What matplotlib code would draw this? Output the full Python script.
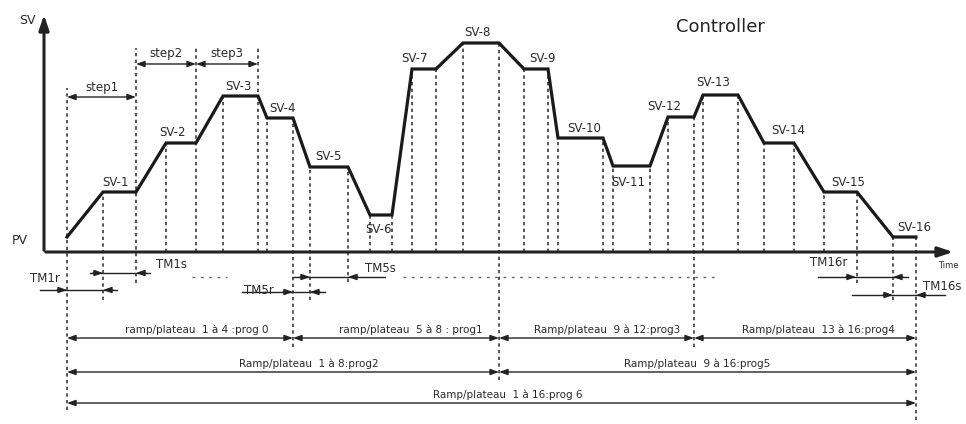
import matplotlib
matplotlib.use("Agg")
import matplotlib.pyplot as plt

# profil SV (temps, valeur) - paliers debut/fin
pv_start = (23, 15)
sv_labels = ["SV-1", "SV-2", "SV-3", "SV-4", "SV-5", "SV-6", "SV-7", "SV-8",
             "SV-9", "SV-10", "SV-11", "SV-12", "SV-13", "SV-14", "SV-15", "SV-16"]
sv_values = [60, 109, 156, 134, 85, 37, 183, 209, 183, 114, 86, 135, 157, 109, 60, 15]
plat_start = [59, 122, 179, 223, 266, 326, 368, 419, 480, 514, 569, 624, 659, 720, 780, 849]
plat_end = [92, 152, 214, 249, 304, 348, 392, 455, 504, 559, 606, 650, 694, 750, 813, 872]
# decalage des etiquettes SV (dx, dy)
label_off = [(-4, 10), (-8, 10), (-2, 10), (3, 10), (-1, 10), (-2, -14), (-9, 11), (-4, 10),
             (6, 11), (4, 10), (-3, -16), (-17, 10), (-7, 12), (9, 12), (8, 10), (10, 10)]

# lignes pointillees verticales (temps, haut, bas)
guide_t = [23, 59, 92, 122, 152, 179, 214, 223, 249, 266, 304, 326, 348, 368, 392, 419, 455,
           480, 504, 514, 559, 569, 606, 624, 650, 659, 694, 720, 750, 780, 813, 849, 872]
guide_top = [164, 60, 204, 109, 204, 156, 204, 134, 134, 85, 85, 37, 37, 183, 183, 209, 209,
             183, 183, 114, 114, 86, 86, 135, 135, 157, 157, 109, 109, 60, 60, 15, 15]
guide_bot = [-158, -48, -31, 0, 0, 0, 0, 0, -95, -48, -30, 0, 0, 0, 0, 0, -128,
             0, 0, 0, 0, 0, 0, 0, -95, 0, 0, 0, 0, 0, -31, -48, -168]

steps = [("step1", 23, 92, 155), ("step2", 92, 152, 188), ("step3", 152, 214, 188)]

# cotes TM : (label, t1, t2, y, ligne debut, ligne fin, label x, label y, ha)
tm_marks = [("TM1r", 23, 59, -38, -4, 73, 1, -26, "center"),
            ("TM1s", 59, 92, -21, 46, 106, 127, -13, "center"),
            ("TM5r", 249, 266, -40, 198, 281, 215, -38, "center"),
            ("TM5s", 266, 304, -25, 249, 341, 336, -16, "center"),
            ("TM16r", 812, 849, -25, 774, 864, 785, -11, "center"),
            ("TM16s", 849, 872, -43, 808, 901, 879, -35, "left")]
dotted_rows = [(148, 183, -25), (359, 671, -25)]

# programmes
prog_labels = ["ramp/plateau  1 à 4 :prog 0", "ramp/plateau  5 à 8 : prog1",
               "Ramp/plateau  9 à 12:prog3", "Ramp/plateau  13 à 16:prog4",
               "Ramp/plateau  1 à 8:prog2", "Ramp/plateau  9 à 16:prog5",
               "Ramp/plateau  1 à 16:prog 6"]
prog_t1 = [23, 249, 455, 650, 23, 455, 23]
prog_t2 = [249, 455, 650, 872, 455, 872, 872]
prog_y = [-86, -86, -86, -86, -120, -120, -151]
prog_lx = [153, 367, 563, 774, 265, 653, 464]

font = ["Liberation Sans Narrow", "DejaVu Sans"]
txt = "#2a2a2a"

fig = plt.figure(figsize=(9.66, 4.24), dpi=100)
ax = fig.add_axes([0, 0, 1, 1])
ax.set_xlim(-44, 922)
ax.set_ylim(-172, 252)
ax.axis("off")

# axes
ax.annotate("", xy=(0, 240), xytext=(0, -1),
            arrowprops=dict(arrowstyle="-|>,head_length=0.9,head_width=0.3", lw=2.2, color="#222222"))
ax.annotate("", xy=(912, 0), xytext=(-1, 0),
            arrowprops=dict(arrowstyle="-|>,head_length=0.9,head_width=0.3", lw=2.2, color="#222222"))
ax.text(-17, 232, "SV", fontsize=9, family=font, ha="center", va="center", color=txt)
ax.text(-24, 12, "PV", fontsize=9, family=font, ha="center", va="center", color=txt)
ax.text(904, -14, "Time", fontsize=6, family=font, ha="center", va="center", color=txt)
ax.text(676, 225, "Controller", fontsize=13, family=font, ha="center", va="center", color="#222222")

# guides
for t, top, bot in zip(guide_t, guide_top, guide_bot):
    ax.plot([t, t], [bot, top], color="#3a3a3a", lw=1.2, ls=(0, (2, 2)))

# profil
xs = [pv_start[0]]
ys = [pv_start[1]]
for v, s, e in zip(sv_values, plat_start, plat_end):
    xs += [s, e]
    ys += [v, v]
ax.plot(xs, ys, color="#1a1a1a", lw=2.3, solid_joinstyle="miter")

for lab, v, s, e, (dx, dy) in zip(sv_labels, sv_values, plat_start, plat_end, label_off):
    ax.text((s + e) / 2 + dx, v + dy, lab, fontsize=8.5, family=font,
            ha="center", va="center", color=txt)

arrow2 = dict(arrowstyle="<|-|>,head_length=0.5,head_width=0.18", lw=1.0, color="#222222",
              shrinkA=0, shrinkB=0)
arrow1 = dict(arrowstyle="-|>,head_length=0.5,head_width=0.18", lw=1.0, color="#222222",
              shrinkA=0, shrinkB=0)

for lab, t1, t2, y in steps:
    ax.annotate("", xy=(t1, y), xytext=(t2, y), arrowprops=arrow2)
    ax.text((t1 + t2) / 2, y + 10, lab, fontsize=8.5, family=font, ha="center", va="center",
            color=txt)

for lab, t1, t2, y, l0, l1, lx, ly, ha in tm_marks:
    ax.plot([l0, l1], [y, y], color="#222222", lw=1.0)
    ax.annotate("", xy=(t1, y), xytext=(t1 - 10, y), arrowprops=arrow1)
    ax.annotate("", xy=(t2, y), xytext=(t2 + 10, y), arrowprops=arrow1)
    ax.text(lx, ly, lab, fontsize=8.5, family=font, ha=ha, va="center", color=txt)

for a, b, y in dotted_rows:
    ax.plot([a, b], [y, y], color="#666666", lw=1.0, ls=(0, (2, 4)))

for lab, t1, t2, y, lx in zip(prog_labels, prog_t1, prog_t2, prog_y, prog_lx):
    ax.annotate("", xy=(t1, y), xytext=(t2, y), arrowprops=arrow2)
    ax.text(lx, y + 8, lab, fontsize=7.5, family=font, ha="center", va="center", color=txt)

fig.savefig("out.png", dpi=100)
